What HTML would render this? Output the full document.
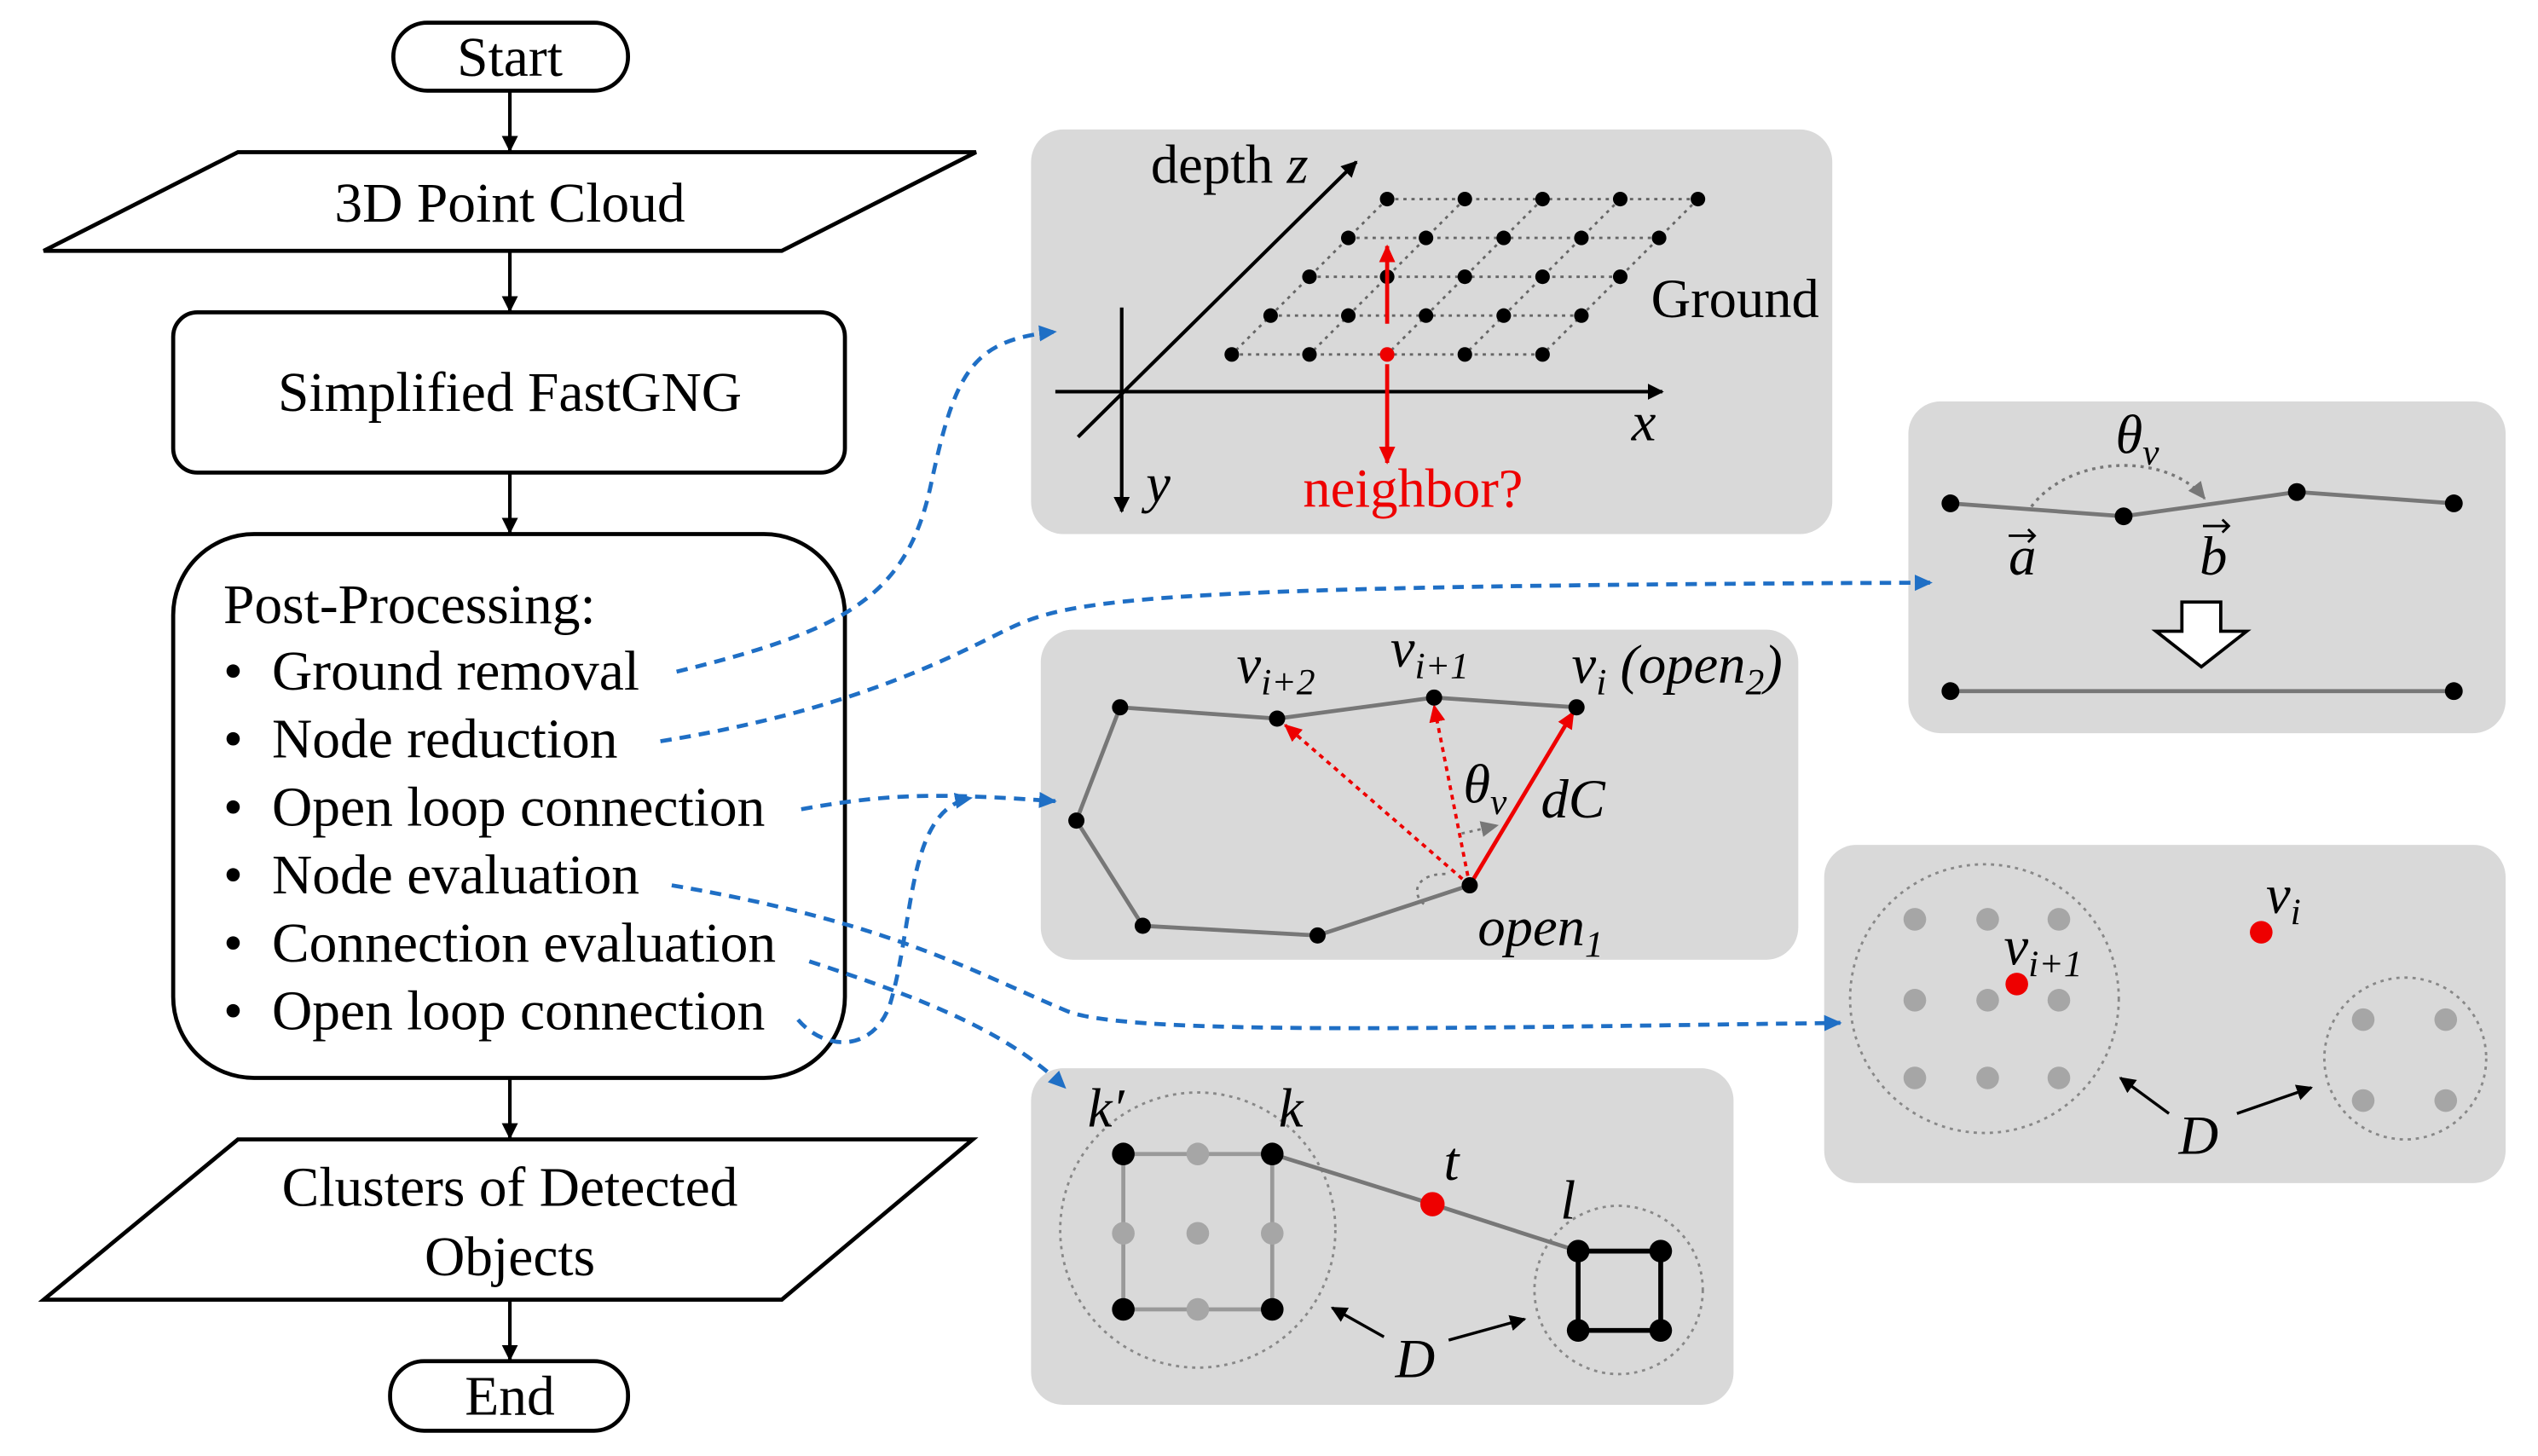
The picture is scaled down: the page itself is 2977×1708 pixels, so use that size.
<!DOCTYPE html>
<html><head><meta charset="utf-8"><style>
html,body{margin:0;padding:0;background:#fff}
svg{display:block}
text{font-family:"Liberation Serif",serif}
</style></head><body>
<svg width="2977" height="1708" viewBox="0 0 1568 899.6" preserveAspectRatio="none" xmlns="http://www.w3.org/2000/svg">
<defs>
<marker id="ar" markerWidth="10" markerHeight="10" refX="9" refY="5" orient="auto" markerUnits="userSpaceOnUse"><path d="M0,0 L10,5 L0,10 z" fill="#000"/></marker>
<marker id="ab" markerWidth="12" markerHeight="12" refX="10" refY="6" orient="auto" markerUnits="userSpaceOnUse"><path d="M0,1 L11,6 L0,11 z" fill="#1f6fc5"/></marker>
<marker id="arr" markerWidth="12" markerHeight="12" refX="10" refY="6" orient="auto" markerUnits="userSpaceOnUse"><path d="M0,1 L11,6 L0,11 z" fill="#e00"/></marker>
<marker id="ag" markerWidth="12" markerHeight="12" refX="10" refY="6" orient="auto" markerUnits="userSpaceOnUse"><path d="M0,1 L11,6 L0,11 z" fill="#777"/></marker>
</defs>
<g fill="none" stroke="#000" stroke-width="2.5">
<rect x="243" y="14" width="145" height="42" rx="21"/>
<polygon points="147,94 603,94 483,155 27,155"/>
<rect x="107" y="193" width="415" height="99" rx="15"/>
<rect x="107" y="330" width="415" height="336" rx="50"/>
<polygon points="147,704 601,704 483,803 27,803"/>
<rect x="241" y="841" width="147" height="43" rx="21"/>
</g>
<g stroke="#000" stroke-width="2.2" marker-end="url(#ar)">
<line x1="315" y1="56" x2="315" y2="93"/><line x1="315" y1="155" x2="315" y2="192"/>
<line x1="315" y1="292" x2="315" y2="329"/><line x1="315" y1="666" x2="315" y2="703"/>
<line x1="315" y1="803" x2="315" y2="840"/>
</g>
<g font-size="34.5" text-anchor="middle">
<text x="315" y="47">Start</text><text x="315" y="137">3D Point Cloud</text>
<text x="315" y="254">Simplified FastGNG</text>
<text x="315" y="745">Clusters of Detected</text><text x="315" y="788">Objects</text>
<text x="315" y="874">End</text>
</g>
<g font-size="34.5">
<text x="138" y="385">Post-Processing:</text>
<text x="138" y="426">•</text><text x="168" y="426">Ground removal</text>
<text x="138" y="468">•</text><text x="168" y="468">Node reduction</text>
<text x="138" y="510">•</text><text x="168" y="510">Open loop connection</text>
<text x="138" y="552">•</text><text x="168" y="552">Node evaluation</text>
<text x="138" y="594">•</text><text x="168" y="594">Connection evaluation</text>
<text x="138" y="636">•</text><text x="168" y="636">Open loop connection</text>
</g>
<g fill="#d9d9d9">
<rect x="637" y="80" width="495" height="250" rx="20"/>
<rect x="1179" y="248" width="369" height="205" rx="20"/>
<rect x="643" y="389" width="468" height="204" rx="20"/>
<rect x="1127" y="522" width="421" height="209" rx="20"/>
<rect x="637" y="660" width="434" height="208" rx="20"/>
</g>
<!-- panel1 -->
<g stroke="#000" stroke-width="2.2" marker-end="url(#ar)">
<line x1="652" y1="242" x2="1027" y2="242"/><line x1="693" y1="190" x2="693" y2="316"/>
<line x1="666" y1="270" x2="838" y2="100"/>
</g>
<g stroke="#666" stroke-width="1.5" stroke-dasharray="2,3" fill="none">
<line x1="857" y1="123" x2="1049" y2="123"/><line x1="833" y1="147" x2="1025" y2="147"/>
<line x1="809" y1="171" x2="1001" y2="171"/><line x1="785" y1="195" x2="977" y2="195"/>
<line x1="761" y1="219" x2="953" y2="219"/>
<line x1="857" y1="123" x2="761" y2="219"/><line x1="905" y1="123" x2="809" y2="219"/>
<line x1="953" y1="123" x2="857" y2="219"/><line x1="1001" y1="123" x2="905" y2="219"/>
<line x1="1049" y1="123" x2="953" y2="219"/>
</g>
<g fill="#000">
<circle cx="857" cy="123" r="4.5"/><circle cx="905" cy="123" r="4.5"/><circle cx="953" cy="123" r="4.5"/><circle cx="1001" cy="123" r="4.5"/><circle cx="1049" cy="123" r="4.5"/>
<circle cx="833" cy="147" r="4.5"/><circle cx="881" cy="147" r="4.5"/><circle cx="929" cy="147" r="4.5"/><circle cx="977" cy="147" r="4.5"/><circle cx="1025" cy="147" r="4.5"/>
<circle cx="809" cy="171" r="4.5"/><circle cx="857" cy="171" r="4.5"/><circle cx="905" cy="171" r="4.5"/><circle cx="953" cy="171" r="4.5"/><circle cx="1001" cy="171" r="4.5"/>
<circle cx="785" cy="195" r="4.5"/><circle cx="833" cy="195" r="4.5"/><circle cx="881" cy="195" r="4.5"/><circle cx="929" cy="195" r="4.5"/><circle cx="977" cy="195" r="4.5"/>
<circle cx="761" cy="219" r="4.5"/><circle cx="809" cy="219" r="4.5"/><circle cx="905" cy="219" r="4.5"/><circle cx="953" cy="219" r="4.5"/>
</g>
<line x1="857" y1="200" x2="857" y2="152" stroke="#e00" stroke-width="2.5" marker-end="url(#arr)"/>
<line x1="857" y1="225" x2="857" y2="286" stroke="#e00" stroke-width="2.5" marker-end="url(#arr)"/>
<circle cx="857" cy="219" r="4.5" fill="#e00"/>
<g font-size="34">
<text x="711" y="113">depth <tspan font-style="italic">z</tspan></text>
<text x="1020" y="196">Ground</text>
<text x="1008" y="272" font-style="italic">x</text><text x="708" y="310" font-style="italic">y</text>
<text x="805" y="313" fill="#e00">neighbor?</text>
</g>
<!-- panel2 -->
<polyline points="1205,311 1312,319 1419,304 1516,311" fill="none" stroke="#777" stroke-width="2.5"/>
<line x1="1205" y1="427" x2="1516" y2="427" stroke="#777" stroke-width="2.5"/>
<path d="M1255,313 C1280,280 1340,280 1362,308" fill="none" stroke="#777" stroke-width="1.8" stroke-dasharray="2,3" marker-end="url(#ag)"/>
<g fill="#000"><circle cx="1205" cy="311" r="5.5"/><circle cx="1312" cy="319" r="5.5"/><circle cx="1419" cy="304" r="5.5"/><circle cx="1516" cy="311" r="5.5"/><circle cx="1205" cy="427" r="5.5"/><circle cx="1516" cy="427" r="5.5"/></g>
<polygon points="1348,372 1372,372 1372,390 1388,390 1360,412 1332,390 1348,390" fill="#fff" stroke="#000" stroke-width="2"/>
<g font-size="34" font-style="italic">
<text x="1307" y="280">θ<tspan font-size="23" dy="7">v</tspan></text>
<text x="1241" y="355">a</text>
<text x="1359" y="355">b</text>
</g>
<g stroke="#000" stroke-width="1.5" fill="none">
<path d="M1241,331 L1257,331 M1253,327 L1257,331 L1253,335"/>
<path d="M1361,325 L1377,325 M1373,321 L1377,325 L1373,329"/>
</g>
<!-- panel3 -->
<polyline points="974,437 886,431 789,444 692,437 665,507 706,572 814,578 908,547" fill="none" stroke="#777" stroke-width="2.5"/>
<path d="M893,540 C872,540 872,555 882,560" fill="none" stroke="#777" stroke-width="1.5" stroke-dasharray="2,3"/>
<path d="M903,515 L925,510" stroke="#777" stroke-width="1.5" stroke-dasharray="2,3" marker-end="url(#ag)"/>
<line x1="908" y1="547" x2="972" y2="440" stroke="#e00" stroke-width="2.5" marker-end="url(#arr)"/>
<line x1="908" y1="547" x2="794" y2="448" stroke="#e00" stroke-width="2" stroke-dasharray="3,3" marker-end="url(#arr)"/>
<line x1="908" y1="547" x2="886" y2="436" stroke="#e00" stroke-width="2" stroke-dasharray="3,3" marker-end="url(#arr)"/>
<g fill="#000"><circle cx="974" cy="437" r="5"/><circle cx="886" cy="431" r="5"/><circle cx="789" cy="444" r="5"/><circle cx="692" cy="437" r="5"/><circle cx="665" cy="507" r="5"/><circle cx="706" cy="572" r="5"/><circle cx="814" cy="578" r="5"/><circle cx="908" cy="547" r="5"/></g>
<g font-size="34" font-style="italic">
<text x="764" y="422">v<tspan font-size="23" dy="7">i+2</tspan></text>
<text x="859" y="412">v<tspan font-size="23" dy="7">i+1</tspan></text>
<text x="971" y="422">v<tspan font-size="23" dy="7">i</tspan><tspan dy="-7"> (open</tspan><tspan font-size="23" dy="7">2</tspan><tspan dy="-7">)</tspan></text>
<text x="904" y="496">θ<tspan font-size="23" dy="7">v</tspan></text>
<text x="952" y="505">dC</text>
<text x="913" y="584">open<tspan font-size="23" dy="7">1</tspan></text>
</g>
<!-- panel4 -->
<circle cx="1226" cy="617" r="83" fill="none" stroke="#888" stroke-width="1.5" stroke-dasharray="2,3"/>
<circle cx="1486" cy="654" r="50" fill="none" stroke="#888" stroke-width="1.5" stroke-dasharray="2,3"/>
<g fill="#a6a6a6">
<circle cx="1183" cy="568" r="7"/><circle cx="1228" cy="568" r="7"/><circle cx="1272" cy="568" r="7"/>
<circle cx="1183" cy="618" r="7"/><circle cx="1228" cy="618" r="7"/><circle cx="1272" cy="618" r="7"/>
<circle cx="1183" cy="666" r="7"/><circle cx="1228" cy="666" r="7"/><circle cx="1272" cy="666" r="7"/>
<circle cx="1460" cy="630" r="7"/><circle cx="1511" cy="630" r="7"/><circle cx="1460" cy="680" r="7"/><circle cx="1511" cy="680" r="7"/>
</g>
<circle cx="1246" cy="608" r="7" fill="#e00"/><circle cx="1397" cy="576" r="7" fill="#e00"/>
<g stroke="#000" stroke-width="1.8" marker-end="url(#ar)"><line x1="1340" y1="688" x2="1310" y2="666"/><line x1="1382" y1="688" x2="1428" y2="672"/></g>
<g font-size="34" font-style="italic">
<text x="1238" y="596">v<tspan font-size="23" dy="7">i+1</tspan></text>
<text x="1400" y="564">v<tspan font-size="23" dy="7">i</tspan></text>
<text x="1346" y="713">D</text>
</g>
<!-- panel5 -->
<circle cx="740" cy="760" r="85" fill="none" stroke="#888" stroke-width="1.5" stroke-dasharray="2,3"/>
<circle cx="1000" cy="797" r="52" fill="none" stroke="#888" stroke-width="1.5" stroke-dasharray="2,3"/>
<g stroke="#999" stroke-width="2.5"><line x1="694" y1="713" x2="786" y2="713"/><line x1="694" y1="809" x2="786" y2="809"/><line x1="694" y1="713" x2="694" y2="809"/><line x1="786" y1="713" x2="786" y2="809"/></g>
<polyline points="786,713 885,744 975,773" fill="none" stroke="#777" stroke-width="2.5"/>
<g stroke="#000" stroke-width="3"><polygon points="975,773 1026,773 1026,822 975,822" fill="none"/></g>
<g fill="#a6a6a6"><circle cx="740" cy="713" r="7"/><circle cx="694" cy="762" r="7"/><circle cx="740" cy="762" r="7"/><circle cx="786" cy="762" r="7"/><circle cx="740" cy="809" r="7"/></g>
<g fill="#000"><circle cx="694" cy="713" r="7"/><circle cx="786" cy="713" r="7"/><circle cx="694" cy="809" r="7"/><circle cx="786" cy="809" r="7"/>
<circle cx="975" cy="773" r="7"/><circle cx="1026" cy="773" r="7"/><circle cx="975" cy="822" r="7"/><circle cx="1026" cy="822" r="7"/></g>
<circle cx="885" cy="744" r="7.5" fill="#e00"/>
<g stroke="#000" stroke-width="1.8" marker-end="url(#ar)"><line x1="855" y1="826" x2="823" y2="808"/><line x1="895" y1="828" x2="942" y2="815"/></g>
<g font-size="34" font-style="italic">
<text x="672" y="696">k′</text><text x="790" y="696">k</text><text x="892" y="729">t</text><text x="964" y="753">l</text>
<text x="862" y="851">D</text>
</g>
<!-- blue connectors -->
<g fill="none" stroke="#1f6fc5" stroke-width="2.5" stroke-dasharray="7,5" marker-end="url(#ab)">
<path d="M418,415 C520,390 560,370 575,300 C590,230 600,210 652,205"/>
<path d="M408,458 C520,440 580,410 620,390 C660,370 700,362 1193,360"/>
<path d="M495,500 C550,490 580,490 652,495"/>
<path d="M415,547 C550,570 600,600 660,625 C700,640 900,635 1137,632"/>
<path d="M500,594 C580,620 625,640 658,672"/>
<path d="M493,630 C510,650 540,650 550,620 C565,570 560,500 600,493"/>
</g>
</svg>
</body></html>
